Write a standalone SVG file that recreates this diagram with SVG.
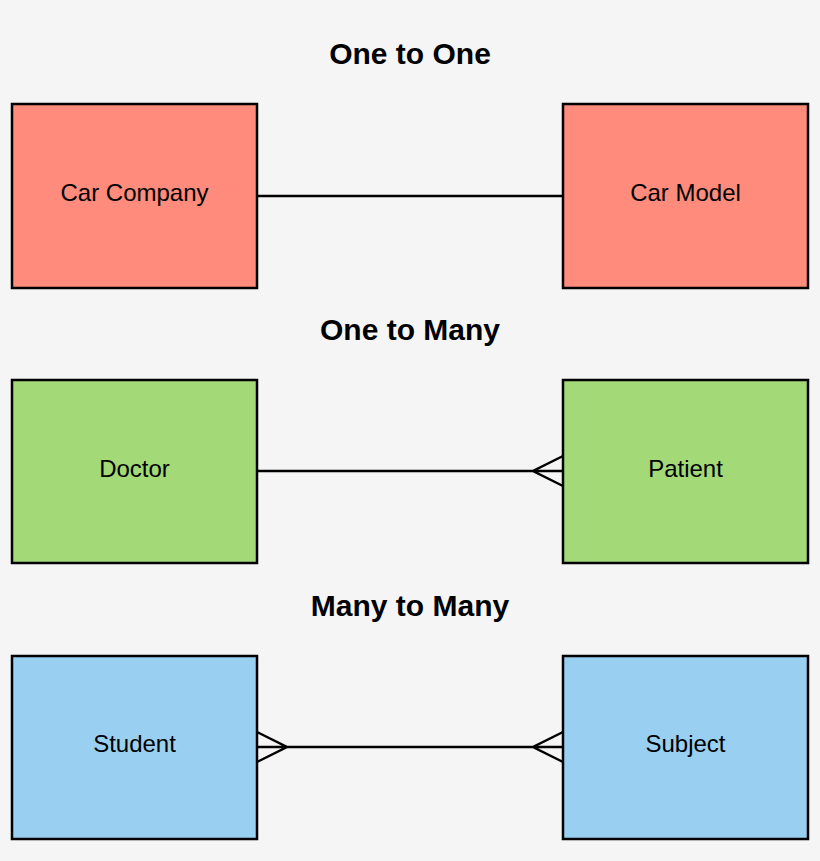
<svg xmlns="http://www.w3.org/2000/svg" width="820" height="861" viewBox="0 0 820 861">
<style>
.t{font-family:"Liberation Sans",Arial,sans-serif;font-weight:bold;font-size:30px;text-anchor:middle}
.l{font-family:"Liberation Sans",Arial,sans-serif;font-size:24px;text-anchor:middle}
.b{stroke:#000;stroke-width:2.5}
.c{stroke:#000;stroke-width:2.5;fill:none}
</style>
<rect width="820" height="861" fill="#f5f5f5"/>
<text class="t" x="410" y="64">One to One</text>
<text class="t" x="410" y="340">One to Many</text>
<text class="t" x="410" y="616">Many to Many</text>
<g id="carcompany"><rect class="b" x="12" y="104" width="245" height="184" fill="#fe8b7b"/><text class="l" x="134.5" y="201">Car Company</text></g>
<g id="carmodel"><rect class="b" x="563" y="104" width="245" height="184" fill="#fe8b7b"/><text class="l" x="685.5" y="201">Car Model</text></g>
<g id="doctor"><rect class="b" x="12" y="380" width="245" height="183" fill="#a3d977"/><text class="l" x="134.5" y="477">Doctor</text></g>
<g id="patient"><rect class="b" x="563" y="380" width="245" height="183" fill="#a3d977"/><text class="l" x="685.5" y="477">Patient</text></g>
<g id="student"><rect class="b" x="12" y="656" width="245" height="183" fill="#99d0f1"/><text class="l" x="134.5" y="752">Student</text></g>
<g id="subject"><rect class="b" x="563" y="656" width="245" height="183" fill="#99d0f1"/><text class="l" x="685.5" y="752">Subject</text></g>
<g id="connectors">
<path class="c" d="M257 196H563"/>
<path class="c" d="M257 471H563M563 456L533 471L563 486"/>
<path class="c" d="M257 747H563M563 732L533 747L563 762M257 732L287 747L257 762"/>
</g>
</svg>
